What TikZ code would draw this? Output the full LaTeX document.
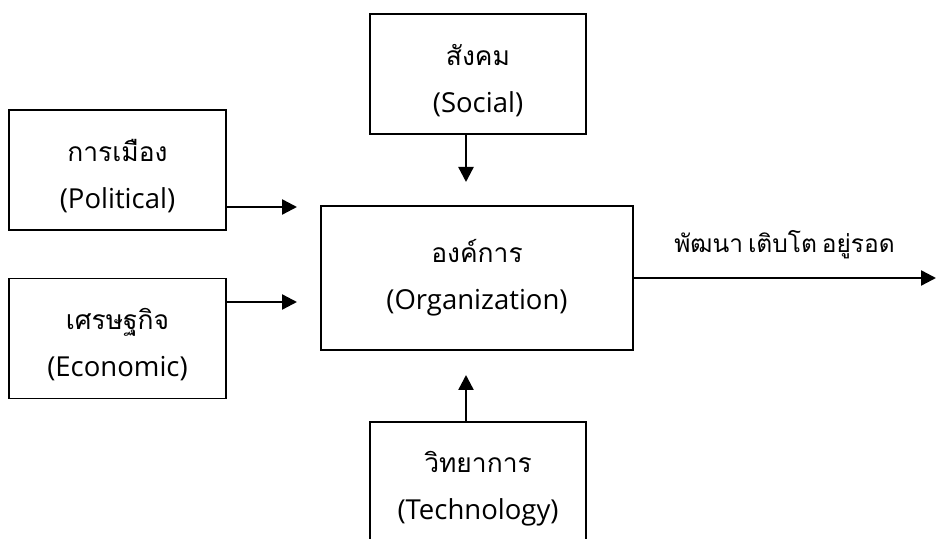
\documentclass[tikz,border=0pt]{standalone}
\usepackage{fontspec}
\setmainfont{Open Sans}
\newfontfamily\thaifont[Script=Thai,Scale=0.96]{Loma}
\newfontfamily\thailabel[Script=Thai,WordSpace=0.6]{Loma}
\usetikzlibrary{arrows.meta}

% first line of a small box sits a bit lower
\newcommand{\lowline}{\rule{0pt}{34pt}}

\tikzset{
    factor/.style={draw, line width=1.3pt, minimum width=216pt, minimum height=120pt,
        align=center, outer sep=0pt, font=\fontsize{27.5}{47}\selectfont},
    flow/.style={line width=2.4pt, -{Triangle[length=15pt,width=15pt]}},
}

\begin{document}
\begin{tikzpicture}[x=1pt, y=1pt]
    \useasboundingbox (0,0) rectangle (936,538);

    \node[factor, minimum width=312pt, minimum height=144pt] (org) at (477,260) {{\thaifont องค์การ}\\(Organization)};
    \node[factor, above of=org, node distance=204pt, xshift=1pt] (soc) {\lowline{\thaifont สังคม}\\(Social)};
    \node[factor, below of=org, node distance=204pt, xshift=1pt] (tech) {\lowline{\thaifont วิทยาการ}\\(Technology)};

    \node[factor, minimum width=217pt] (pol) at (117.5,368) {\lowline{\thaifont การเมือง}\\(Political)};
    \node[factor, minimum width=217pt, below of=pol, node distance=168.5pt] (eco) {\lowline{\thaifont เศรษฐกิจ}\\(Economic)};

    % arrow tips
    \coordinate (polTip) at (297,331);
    \coordinate (ecoTip) at (297,236);
    \coordinate (socTip) at (466,356);
    \coordinate (techTip) at (466,163);
    \coordinate (out) at (936,260);

    \draw[flow] (pol.east |- polTip) -- (polTip);
    \draw[flow] (eco.east |- ecoTip) -- (ecoTip);
    \draw[flow] (soc.south -| socTip) -- (socTip);
    \draw[flow] (tech.north -| techTip) -- (techTip);
    \draw[flow] (org.east) -- (out) node[midway, above=15pt, font=\fontsize{24.5}{30}\selectfont\thailabel] (result) {พัฒนา เติบโต อยู่รอด};

\end{tikzpicture}
\end{document}
